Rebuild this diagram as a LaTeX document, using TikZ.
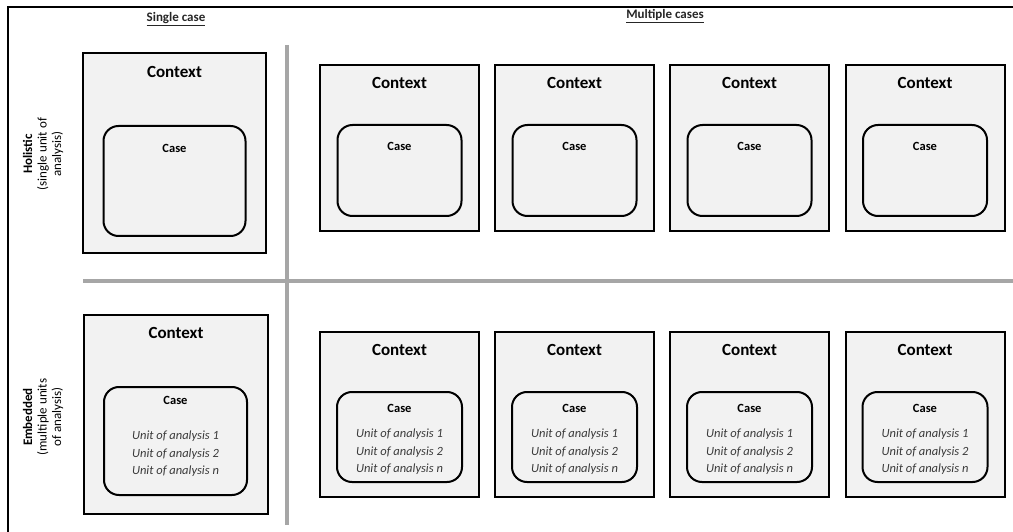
\documentclass[tikz,border=0pt]{standalone}
\usepackage{fontspec}
\setmainfont{Carlito}
\definecolor{boxfill}{HTML}{F2F2F2}
\definecolor{divgray}{HTML}{A6A6A6}
\definecolor{unitgray}{HTML}{3A3A3A}
\begin{document}
\begin{tikzpicture}[x=1pt,y=-1pt,
  ctxbox/.style={draw=black, line width=2pt, fill=boxfill, inner sep=0pt},
  casebox/.style={draw=black, line width=2pt, fill=boxfill, rounded corners=15pt, inner sep=0pt},
  ctxlabel/.style={font=\bfseries\fontsize{17}{20}\selectfont, inner sep=0pt},
  caselabel/.style={font=\bfseries\fontsize{12.5}{14}\selectfont, inner sep=0pt},
  unitlabel/.style={font=\itshape\fontsize{12.5}{17.5}\selectfont, text=unitgray, align=center, inner sep=0pt},
  header/.style={font=\bfseries\fontsize{13}{15}\selectfont, text=black!85, inner sep=0pt},
  rowlabel/.style={font=\fontsize{13}{14.5}\selectfont, align=center, rotate=90, inner sep=0pt},
  divider/.style={draw=divgray, line width=4pt},
  frameline/.style={draw=black, line width=1.5pt}
]
\useasboundingbox (0,0) rectangle (1013,532);

% outer frame (top and left edges)
\coordinate (ftr) at (1013,7);
\coordinate (ftl) at (8,7);
\coordinate (fbl) at (8,532);
\draw[frameline] (ftr) -- (ftl) -- (fbl);

% quadrant dividers
\coordinate (vtop) at (287,45);
\coordinate (vbot) at (287,525);
\coordinate (hleft) at (83,281);
\coordinate (hright) at (1013,281);
\draw[divider] (vtop) -- (vbot);
\draw[divider] (hleft) -- (hright);

% column headers
\node[header] (hsingle) at (176,19) {\underline{Single case}};
\node[header] (hmulti) at (665,16) {\underline{Multiple cases}};

% row headers
\node[rowlabel] (rholistic) at (43,154) {\textbf{Holistic}\\(single unit of\\analysis)};
\node[rowlabel] (rembedded) at (43,417) {\textbf{Embedded}\\(multiple units\\of analysis)};

% holistic, single case
\node[ctxbox, minimum width=183pt, minimum height=200pt] (hsctx) at (174.5,153) {};
\node[ctxlabel] at (174.5,72) {Context};
\node[casebox, minimum width=142pt, minimum height=110pt] (hscase) at (174.5,181) {};
\node[caselabel] at (174.5,148) {Case};

% embedded, single case
\node[ctxbox, minimum width=184pt, minimum height=199pt] (esctx) at (176,414.5) {};
\node[ctxlabel] at (176,333) {Context};
\node[casebox, minimum width=143pt, minimum height=108pt] (escase) at (175.5,441) {};
\node[caselabel] at (175.5,400) {Case};
\node[unitlabel] at (175.5,454) {Unit of analysis 1\\Unit of analysis 2\\Unit of analysis n};

% holistic and embedded, multiple cases
\foreach \i/\cx in {1/399.5, 2/574.5, 3/749.5, 4/925} {
  \node[ctxbox, minimum width=159pt, minimum height=166pt] (hmctx\i) at (\cx,148) {};
  \node[ctxlabel] at (\cx,83) {Context};
  \node[casebox, minimum width=124pt, minimum height=91pt] (hmcase\i) at (\cx,170.5) {};
  \node[caselabel] at (\cx,146) {Case};

  \node[ctxbox, minimum width=159pt, minimum height=165pt] (emctx\i) at (\cx,414.5) {};
  \node[ctxlabel] at (\cx,350) {Context};
  \node[casebox, minimum width=125pt, minimum height=90pt] (emcase\i) at (\cx,437) {};
  \node[caselabel] at (\cx,408) {Case};
  \node[unitlabel] at (\cx,452) {Unit of analysis 1\\Unit of analysis 2\\Unit of analysis n};
}
\end{tikzpicture}
\end{document}
